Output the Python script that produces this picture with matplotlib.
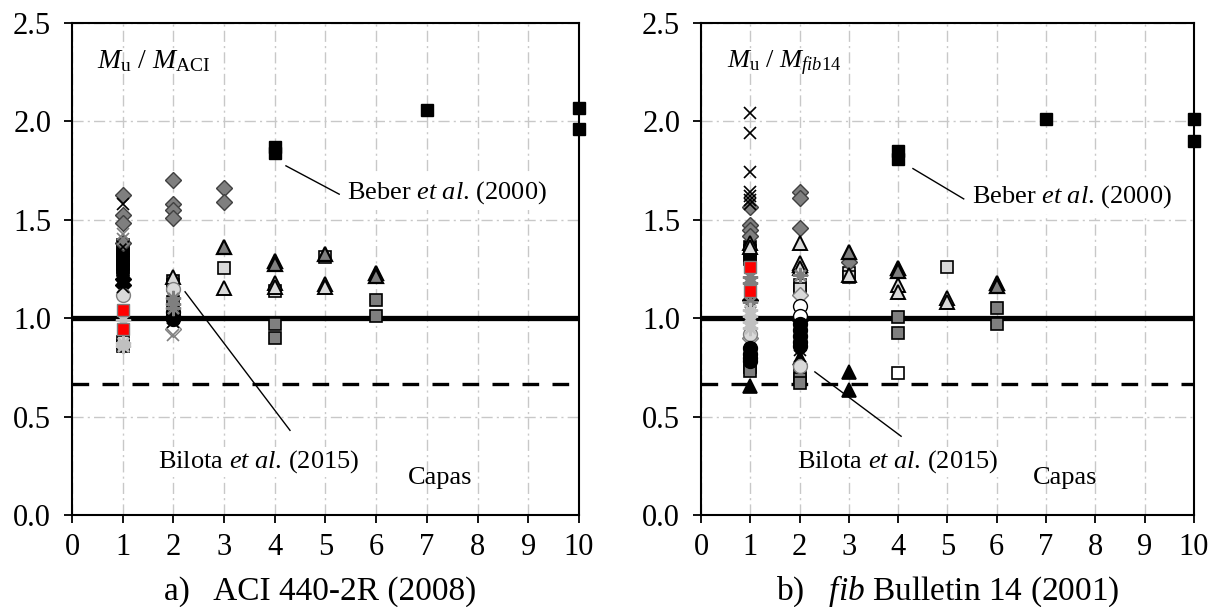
import matplotlib.pyplot as plt

plt.rcParams['font.family'] = ['Liberation Serif', 'DejaVu Serif']
plt.rcParams['mathtext.fontset'] = 'custom'
plt.rcParams['mathtext.rm'] = 'Liberation Serif'
plt.rcParams['mathtext.it'] = 'Liberation Serif:italic'

layer_ticks = list(range(0, 11))
ratio_ticks = [0.0, 0.5, 1.0, 1.5, 2.0, 2.5]
lower_limit = 2 / 3

# ACI 440-2R (2008): (layers, Mu / M_ACI) for each marker family
aci_beber = ([4, 4, 7, 10, 10], [1.87, 1.84, 2.06, 2.07, 1.96])
aci_blk_sq = ([1, 1, 1, 1, 1, 1, 1], [1.37, 1.345, 1.32, 1.30, 1.28, 1.26, 1.245])
aci_dk_sq = ([1, 2, 2, 4, 4, 6, 6], [0.86, 1.19, 1.08, 0.97, 0.90, 1.09, 1.01])
aci_lt_sq = ([1, 2, 3, 4, 5], [0.88, 1.17, 1.255, 1.14, 1.31])
aci_red_sq = ([1, 1], [1.04, 0.945])
aci_dk_dia = ([1, 1, 1, 1, 2, 2, 2, 2, 3, 3],
              [1.627, 1.525, 1.485, 1.38, 1.70, 1.58, 1.55, 1.51, 1.66, 1.59])
aci_blk_dia = ([1, 1, 2], [1.20, 1.17, 1.0])
aci_wh_dia = ([2], [0.945])
aci_dk_tri = ([3, 4, 4, 5, 6, 6], [1.36, 1.29, 1.275, 1.325, 1.23, 1.215])
aci_lt_tri = ([2, 3, 4, 4, 5, 5], [1.21, 1.155, 1.18, 1.16, 1.175, 1.16])
aci_lt_circ = ([1, 2], [1.12, 1.15])
aci_blk_circ = ([2, 2, 2], [1.03, 1.01, 0.995])
aci_blk_x = ([1, 1, 1, 1, 1, 1, 1, 2, 2],
             [1.58, 1.30, 1.27, 1.22, 1.19, 1.16, 1.36, 1.0, 0.98])
aci_dk_x = ([1, 1, 2], [1.40, 1.43, 0.915])
aci_lt_ast = ([1, 1, 1], [0.99, 0.875, 0.86])
aci_dk_ast = ([2, 2, 2], [1.10, 1.07, 1.05])

# fib Bulletin 14 (2001): (layers, Mu / M_fib14)
fib_beber = ([4, 4, 7, 10, 10], [1.85, 1.81, 2.01, 2.01, 1.90])
fib_blk_sq = ([1, 1, 1, 1], [1.36, 1.34, 1.32, 1.30])
fib_dk_sq = ([1, 1, 2, 2, 2, 4, 4, 6, 6],
             [0.75, 0.73, 0.715, 0.69, 0.67, 1.005, 0.925, 1.05, 0.97])
fib_lt_sq = ([2, 2, 3, 3, 5], [1.17, 1.15, 1.23, 1.21, 1.26])
fib_wh_sq = ([4], [0.72])
fib_red_sq = ([1, 1], [1.26, 1.14])
fib_dk_dia = ([1, 1, 1, 1, 2, 2, 2, 3],
              [1.565, 1.475, 1.45, 1.42, 1.64, 1.61, 1.46, 1.285])
fib_blk_dia = ([1, 2], [1.09, 0.99])
fib_lt_dia = ([1, 2], [0.90, 1.12])
fib_dk_tri = ([2, 3, 4, 4, 6, 6], [1.27, 1.335, 1.255, 1.24, 1.18, 1.165])
fib_lt_tri = ([1, 1, 2, 2, 2, 3, 4, 4, 5, 5],
              [1.38, 1.36, 1.38, 1.28, 1.255, 1.22, 1.17, 1.135, 1.10, 1.08])
fib_blk_tri = ([1, 2, 3, 3], [0.655, 0.80, 0.725, 0.635])
fib_wh_circ = ([2, 2], [1.06, 1.01])
fib_lt_circ = ([1, 2], [0.92, 0.755])
fib_blk_circ = ([1, 1, 1, 1, 2, 2, 2, 2, 2],
                [0.85, 0.82, 0.80, 0.78, 0.97, 0.94, 0.91, 0.88, 0.86])
fib_blk_x = ([1, 1, 1, 1, 1, 1, 1, 1, 2, 2],
             [2.04, 1.94, 1.745, 1.64, 1.62, 1.60, 1.58, 0.83, 0.84, 0.81])
fib_dk_ast = ([1, 1, 1, 2], [1.21, 1.18, 1.08, 1.22])
fib_lt_ast = ([1, 1, 1, 1], [1.04, 1.01, 0.98, 0.95])

DK = '#7f7f7f'
LT = '#d9d9d9'
styles = {
    'dk_sq': dict(marker='s', mfc=DK, mec='black', ms=9, mew=1.2),
    'lt_sq': dict(marker='s', mfc=LT, mec='black', ms=9, mew=1.2),
    'wh_sq': dict(marker='s', mfc='white', mec='black', ms=9, mew=1.2),
    'blk_sq': dict(marker='s', mfc='black', mec='black', ms=9, mew=1.2),
    'dk_dia': dict(marker='D', mfc=DK, mec='#404040', ms=8, mew=1.0),
    'lt_dia': dict(marker='D', mfc=LT, mec=DK, ms=8, mew=1.0),
    'wh_dia': dict(marker='D', mfc='white', mec=DK, ms=8, mew=1.0),
    'blk_dia': dict(marker='D', mfc='black', mec='black', ms=8, mew=1.0),
    'dk_tri': dict(marker='^', mfc=DK, mec='black', ms=10, mew=1.6),
    'lt_tri': dict(marker='^', mfc=LT, mec='black', ms=10, mew=1.4),
    'blk_tri': dict(marker='^', mfc='black', mec='black', ms=10, mew=1.2),
    'lt_circ': dict(marker='o', mfc=LT, mec=DK, ms=10, mew=1.0),
    'wh_circ': dict(marker='o', mfc='white', mec='black', ms=10, mew=1.0),
    'blk_circ': dict(marker='o', mfc='black', mec='black', ms=10, mew=1.0),
    'blk_x': dict(marker='x', mfc='none', mec='black', ms=9, mew=1.2),
    'dk_x': dict(marker='x', mfc='none', mec=DK, ms=9, mew=1.2),
    'dk_ast': dict(marker=(8, 2, 0), mfc='none', mec=DK, ms=11, mew=1.6),
    'lt_ast': dict(marker=(8, 2, 0), mfc='none', mec='#c0c0c0', ms=11, mew=1.6),
    'red_sq': dict(marker='s', mfc='red', mec=DK, ms=9, mew=1.0),
    'beber': dict(marker='s', mfc='black', mec='black', ms=9, mew=1.0),
}

aci_series = [
    (aci_dk_sq, 'dk_sq'), (aci_lt_sq, 'lt_sq'), (aci_blk_sq, 'blk_sq'),
    (aci_dk_dia, 'dk_dia'), (aci_blk_dia, 'blk_dia'), (aci_wh_dia, 'wh_dia'),
    (aci_dk_tri, 'dk_tri'), (aci_lt_tri, 'lt_tri'),
    (aci_lt_circ, 'lt_circ'), (aci_blk_circ, 'blk_circ'),
    (aci_blk_x, 'blk_x'), (aci_dk_x, 'dk_x'),
    (aci_dk_ast, 'dk_ast'), (aci_lt_ast, 'lt_ast'),
    (aci_red_sq, 'red_sq'), (aci_beber, 'beber'),
]
fib_series = [
    (fib_dk_sq, 'dk_sq'), (fib_lt_sq, 'lt_sq'), (fib_wh_sq, 'wh_sq'),
    (fib_blk_sq, 'blk_sq'),
    (fib_dk_dia, 'dk_dia'), (fib_blk_dia, 'blk_dia'), (fib_lt_dia, 'lt_dia'),
    (fib_dk_tri, 'dk_tri'), (fib_lt_tri, 'lt_tri'), (fib_blk_tri, 'blk_tri'),
    (fib_wh_circ, 'wh_circ'), (fib_lt_circ, 'lt_circ'),
    (fib_blk_circ, 'blk_circ'), (fib_blk_x, 'blk_x'),
    (fib_dk_ast, 'dk_ast'), (fib_lt_ast, 'lt_ast'),
    (fib_red_sq, 'red_sq'), (fib_beber, 'beber'),
]

FS = 19       # annotations inside the plots
TICK_FS = 22
CAP_FS = 24

fig = plt.figure(figsize=(12.2, 6.07), dpi=100)
ax1 = fig.add_axes([0.059, 0.1516, 0.4156, 0.8106])
ax2 = fig.add_axes([0.5746, 0.1516, 0.404, 0.8106])


def setup(ax, series):
    ax.set_xlim(0, 10)
    ax.set_ylim(0, 2.5)
    ax.set_xticks(layer_ticks)
    ax.set_yticks(ratio_ticks)
    ax.set_yticklabels([f'{v:.1f}' for v in ratio_ticks])
    ax.grid(True, color='#c8c8c8', linestyle=(0, (8, 3, 1.5, 3)), linewidth=1.0)
    ax.set_axisbelow(True)
    for sp in ax.spines.values():
        sp.set_linewidth(1.5)
        sp.set_color('black')
    ax.tick_params(direction='out', length=6, width=1.3, labelsize=TICK_FS)
    ax.tick_params(axis='y', pad=9)
    ax.tick_params(axis='x', pad=7)
    ax.axhline(1.0, color='black', lw=3.8, zorder=2)
    ax.axhline(lower_limit, color='black', lw=2.4, dashes=(5, 4), zorder=2)
    for (xs, ys), key in series:
        ax.plot(xs, ys, ls='none', zorder=3, clip_on=False, **styles[key])


setup(ax1, aci_series)
setup(ax2, fib_series)

# left panel labels
ax1.text(0.5, 2.27, r'$M_{\mathrm{u}}$ / $M_{\mathrm{ACI}}$', fontsize=20)
ax1.plot([4.22, 5.27], [1.774, 1.63], color='black', lw=1.0, zorder=4)
ax1.text(5.42, 1.64, r'Beber $\mathit{et\ al}$. (2000)', fontsize=FS, va='center',
         bbox=dict(facecolor='white', edgecolor='none', pad=3), zorder=5)
ax1.plot([2.23, 4.3], [1.134, 0.43], color='black', lw=1.0, zorder=4)
ax1.text(1.7, 0.27, r'Bilota $\mathit{et\ al}$. (2015)', fontsize=FS, va='center',
         bbox=dict(facecolor='white', edgecolor='none', pad=1), zorder=5)
ax1.text(7.26, 0.19, 'Capas', fontsize=FS, ha='center', va='center')
ax1.text(0.49, -0.155, 'a)   ACI 440-2R (2008)', fontsize=CAP_FS, ha='center',
         va='center', transform=ax1.transAxes)

# right panel labels
ax2.text(0.53, 2.27, r'$M_{\mathrm{u}}$ / $M_{fib\mathrm{14}}$', fontsize=FS)
ax2.plot([4.30, 5.33], [1.76, 1.606], color='black', lw=1.0, zorder=4)
ax2.text(5.50, 1.62, r'Beber $\mathit{et\ al}$. (2000)', fontsize=FS, va='center',
         bbox=dict(facecolor='white', edgecolor='none', pad=3), zorder=5)
ax2.plot([2.31, 4.06], [0.727, 0.40], color='black', lw=1.0, zorder=4)
ax2.text(1.95, 0.27, r'Bilota $\mathit{et\ al}$. (2015)', fontsize=FS, va='center',
         bbox=dict(facecolor='white', edgecolor='none', pad=1), zorder=5)
ax2.text(7.38, 0.19, 'Capas', fontsize=FS, ha='center', va='center')
ax2.text(0.5, -0.155, r'b)   $\mathit{fib}$ Bulletin 14 (2001)', fontsize=CAP_FS,
         ha='center', va='center', transform=ax2.transAxes)

fig.savefig('out.png', dpi=100)
